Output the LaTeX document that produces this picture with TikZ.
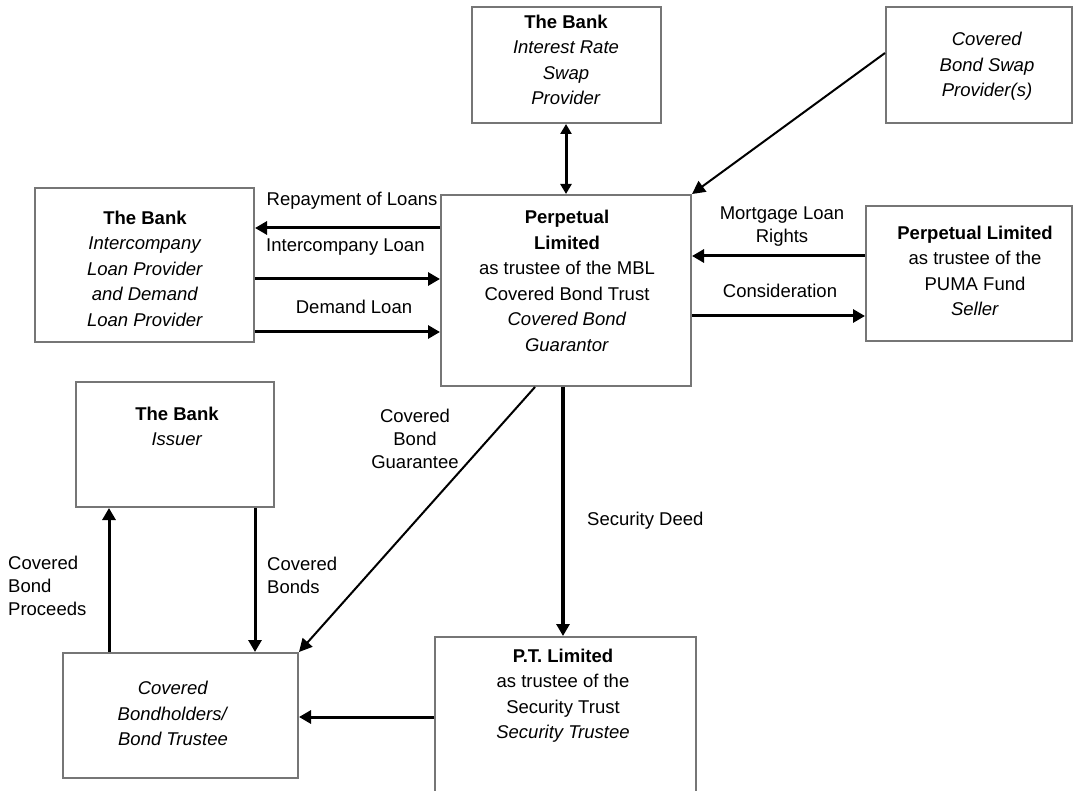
\documentclass[tikz,border=0pt]{standalone}
\usepackage{fontspec}
\setmainfont{Liberation Sans}
\usetikzlibrary{arrows.meta}
\definecolor{boxgray}{RGB}{118,118,118}
\tikzset
{
    party/.style     = {rectangle, draw=boxgray, line width=2pt, inner sep=0pt},
    partytext/.style = {align=center, font=\fontsize{18.5}{25.5}\selectfont, inner sep=0pt},
    flowlabel/.style = {font=\fontsize{18.5}{23}\selectfont, inner sep=0pt},
    flow/.style      = {line width=3pt, -{Triangle[length=12pt,width=13pt]}},
    thinflow/.style  = {line width=2pt, -{Triangle[length=13pt,width=13pt]}},
    twoway/.style    = {line width=3pt, {Triangle[length=10pt,width=11pt]}-{Triangle[length=10pt,width=11pt]}}
}

\begin{document}
\begin{tikzpicture}[x=1pt, y=-1pt]
\useasboundingbox (0,0) rectangle (1074,791);

%% parties
\node (irs)		[party, minimum width=189pt, minimum height=116pt]	at (566,65)		{};
\node (swap)	[party, minimum width=186pt, minimum height=116pt]	at (979,65)		{};
\node (icl)		[party, minimum width=219pt, minimum height=154pt]	at (144.5,265)	{};
\node (cbg)		[party, minimum width=250pt, minimum height=191pt]	at (566,290.5)	{};
\node (seller)	[party, minimum width=206pt, minimum height=135pt]	at (969,273.5)	{};
\node (issuer)	[party, minimum width=198pt, minimum height=125pt]	at (175,444.5)	{};
\node (holders)	[party, minimum width=235pt, minimum height=125pt]	at (180.5,715.5)	{};
\node (pt)		[party, minimum width=261pt, minimum height=160pt]	at (565.5,717)	{};

\node (irst)		[partytext]	at (566,60)		{\textbf{The Bank}\\ \textit{Interest Rate}\\ \textit{Swap}\\ \textit{Provider}};
\node (swapt)		[partytext]	at (987,66.5)	{\textit{Covered}\\ \textit{Bond Swap}\\ \textit{Provider(s)}};
\node (iclt)		[partytext]	at (145,268.5)	{\textbf{The Bank}\\ \textit{Intercompany}\\ \textit{Loan Provider}\\ \textit{and Demand}\\ \textit{Loan Provider}};
\node (cbgt)		[partytext]	at (567,281)	{\textbf{Perpetual}\\ \textbf{Limited}\\ as trustee of the MBL\\ Covered Bond Trust\\ \textit{Covered Bond}\\ \textit{Guarantor}};
\node (sellert)		[partytext]	at (975,271)	{\textbf{Perpetual Limited}\\ as trustee of the\\ PUMA Fund\\ \textit{Seller}};
\node (issuert)		[partytext]	at (177,426.5)	{\textbf{The Bank}\\ \textit{Issuer}};
\node (holderst)	[partytext]	at (173,713.5)	{\textit{Covered}\\ \textit{Bondholders/}\\ \textit{Bond Trustee}};
\node (ptt)			[partytext]	at (563,695.5)	{\textbf{P.T. Limited}\\ as trustee of the\\ Security Trust\\ \textit{Security Trustee}};

%% flow labels
\node (lrepay)	[flowlabel]							at (352,201)	{Repayment of Loans};
\node (licl)	[flowlabel, anchor=west]			at (266,247)	{Intercompany Loan};
\node (ldem)	[flowlabel]							at (354,307)	{Demand Loan};
\node (lmort)	[flowlabel, align=center]			at (782,227)	{Mortgage Loan\\ Rights};
\node (lcons)	[flowlabel]							at (780,291)	{Consideration};
\node (lguar)	[flowlabel, align=center]			at (415,439)	{Covered\\ Bond\\ Guarantee};
\node (lsec)	[flowlabel, anchor=west]			at (587,521)	{Security Deed};
\node (lbonds)	[flowlabel, align=left, anchor=west]	at (267,575)	{Covered\\ Bonds};
\node (lproc)	[flowlabel, align=left, anchor=west]	at (8,586)		{Covered\\ Bond\\ Proceeds};

\path
(irs.south)					edge[twoway]			(cbg.north)
([yshift=12pt]swap.west)	edge[thinflow]			(cbg.north east)
([yshift=62.5pt]cbg.west)	edge[flow]				([yshift=37pt]icl.east)
([yshift=-14pt]icl.east)	edge[flow]				([yshift=11.5pt]cbg.west)
([yshift=-67pt]icl.east)	edge[flow]				([yshift=-41.5pt]cbg.west)
([yshift=17.5pt]seller.west)	edge[flow]			([yshift=34.5pt]cbg.east)
([yshift=-25.5pt]cbg.east)	edge[flow]				([yshift=-42.5pt]seller.west)
([xshift=-31pt]cbg.south)	edge[thinflow]			(holders.north east)
([xshift=-3pt]cbg.south)	edge[flow, line width=4pt]	([xshift=-2.5pt]pt.north)
([xshift=80pt]issuer.south)	edge[flow]				([xshift=74.5pt]holders.north)
([xshift=-71.5pt]holders.north)	edge[flow]			([xshift=-66pt]issuer.south)
(pt.west)					edge[flow]				(pt.west -| holders.east);

\end{tikzpicture}
\end{document}
